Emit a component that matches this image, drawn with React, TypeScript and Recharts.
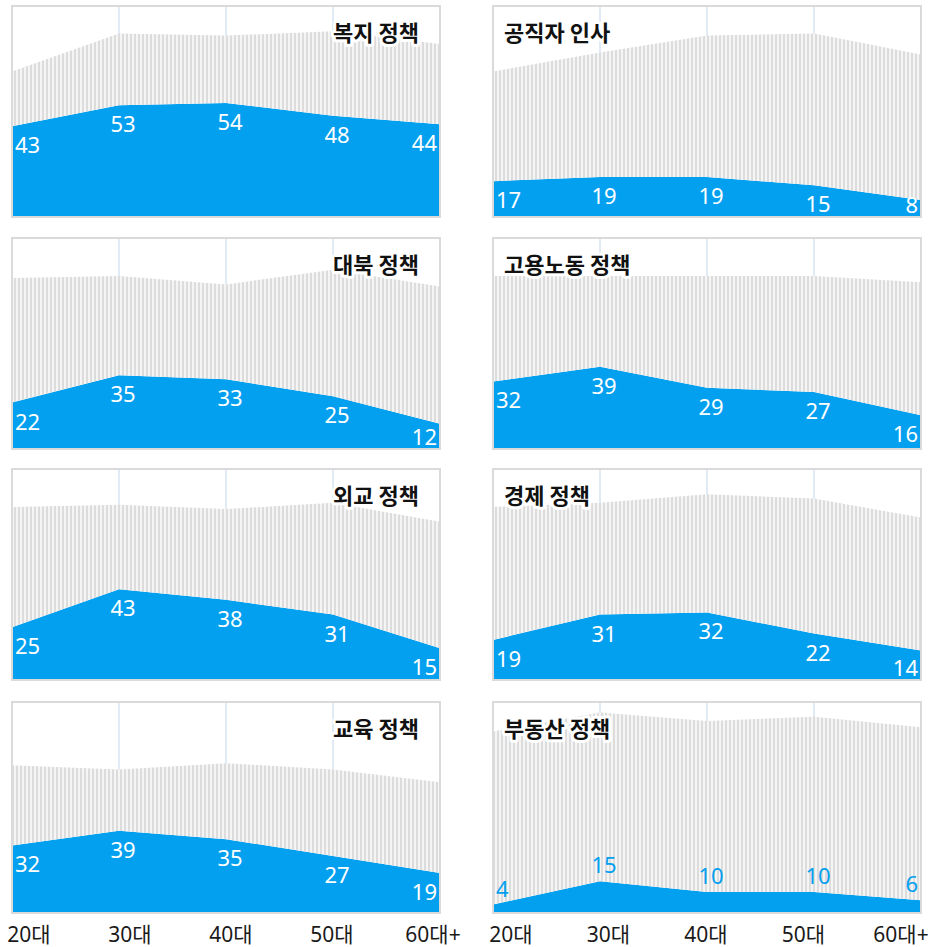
import React from "react";
import {
  AreaChart,
  Area,
  XAxis,
  YAxis,
  CartesianGrid,
  ReferenceArea,
  LabelList,
} from "recharts";

// ---------- data ----------
const ages = ["20대", "30대", "40대", "50대", "60대+"];

const titles = [
  "복지 정책",
  "공직자 인사",
  "대북 정책",
  "고용노동 정책",
  "외교 정책",
  "경제 정책",
  "교육 정책",
  "부동산 정책",
];

// approve (blue) / disapprove (striped gray), in %
const welfareApprove = [43, 53, 54, 48, 44];
const welfareDisapprove = [26, 34, 32, 40, 38];

const personnelApprove = [17, 19, 19, 15, 8];
const personnelDisapprove = [52, 59, 67, 72, 69];

const northApprove = [22, 35, 33, 25, 12];
const northDisapprove = [59, 47, 45, 60, 65];

const laborApprove = [32, 39, 29, 27, 16];
const laborDisapprove = [50, 43, 53, 55, 63];

const diplomacyApprove = [25, 43, 38, 31, 15];
const diplomacyDisapprove = [57, 40, 43, 53, 60];

const economyApprove = [19, 31, 32, 22, 14];
const economyDisapprove = [63, 53, 56, 64, 63];

const educationApprove = [32, 39, 35, 27, 19];
const educationDisapprove = [38, 29, 36, 41, 43];

const housingApprove = [4, 15, 10, 10, 6];
const housingDisapprove = [82, 80, 81, 83, 82];

const approveSeries = [
  welfareApprove,
  personnelApprove,
  northApprove,
  laborApprove,
  diplomacyApprove,
  economyApprove,
  educationApprove,
  housingApprove,
];
const disapproveSeries = [
  welfareDisapprove,
  personnelDisapprove,
  northDisapprove,
  laborDisapprove,
  diplomacyDisapprove,
  economyDisapprove,
  educationDisapprove,
  housingDisapprove,
];

// ---------- style / layout ----------
const BLUE = "#04a0f0";
const FONT = "'Noto Sans', 'Noto Sans CJK KR', sans-serif";
const TITLE_FONT = "'Noto Sans CJK KR', 'Noto Sans', sans-serif";
const PLOT_W = 428;
const PLOT_H = 211;
const COL_LEFT = [12, 493];
const ROW_TOP = [6, 238, 469, 702];
const M = 2;
const AXIS_H = 40;
const EXTRA_R = 30;
const EXTRA_L = 10;
const AXIS_PADDING = [
  { left: 17, right: 7 },
  { left: 18, right: 20 },
];
const LABELS_ABOVE = new Set(["부동산 정책"]);

const AgeTick = (p: any) => (
  <text
    x={p.x}
    y={p.y + 29}
    textAnchor="middle"
    fontSize={21}
    fill="#1a1a1a"
    fontFamily={FONT}
  >
    {p.payload.value}
  </text>
);

function Panel({ index }: { index: number }) {
  const title = titles[index];
  const approve = approveSeries[index];
  const disapprove = disapproveSeries[index];
  const col = index % 2;
  const row = Math.floor(index / 2);
  const showAxis = row === ROW_TOP.length - 1;
  const above = LABELS_ABOVE.has(title);

  const data = ages.map((a, i) => ({
    age: a,
    approve: approve[i],
    disapprove: disapprove[i],
  }));

  const extraR = showAxis ? EXTRA_R : 0;
  const extraL = showAxis ? EXTRA_L : 0;
  const w = PLOT_W + 2 * M + extraR + extraL;
  const h = PLOT_H + 2 * M + (showAxis ? AXIS_H : 0);
  const left = COL_LEFT[col] - M - extraL;
  const top = ROW_TOP[row] - M;
  const plotBottom = M + PLOT_H;
  const n = ages.length;

  const renderLabel = (p: any) => {
    const { x, y, index: i } = p;
    const anchor = i === 0 ? "start" : i === n - 1 ? "end" : "middle";
    const tx = i === 0 ? x + 3 : i === n - 1 ? x - 3 : x + 4;
    const ty = above ? y - 8 : Math.min(y + 27, plotBottom - 4);
    return (
      <text
        key={i}
        x={tx}
        y={ty}
        textAnchor={anchor}
        fontSize={22}
        fill={above ? BLUE : "#ffffff"}
        fontFamily={FONT}
      >
        {approve[i]}
      </text>
    );
  };

  const titleX = col === 0 ? extraL + M + PLOT_W - 21 : extraL + M + 11;
  const titleY = M + 27 + 8;

  return (
    <div style={{ position: "absolute", left, top, width: w, height: h }}>
      <AreaChart
        width={w}
        height={h}
        data={data}
        margin={{ top: M, right: M + extraR, bottom: M, left: M + extraL }}
      >
        <XAxis dataKey="age" xAxisId="main" hide />
        {showAxis && (
          <XAxis
            dataKey="age"
            xAxisId="lab"
            padding={AXIS_PADDING[col]}
            axisLine={false}
            tickLine={false}
            tickSize={0}
            tickMargin={0}
            interval={0}
            height={AXIS_H}
            tick={AgeTick}
          />
        )}
        <YAxis hide domain={[0, 100]} type="number" />
        <CartesianGrid
          xAxisId="main"
          horizontal={false}
          stroke="#d6e4f2"
          strokeWidth={1.5}
        />
        <Area
          xAxisId="main"
          type="linear"
          dataKey="approve"
          stackId="s"
          fill={BLUE}
          fillOpacity={1}
          stroke="none"
          dot={false}
          activeDot={false}
          isAnimationActive={false}
        >
          <LabelList dataKey="approve" content={renderLabel} />
        </Area>
        <Area
          xAxisId="main"
          type="linear"
          dataKey="disapprove"
          stackId="s"
          fill="url(#stripes)"
          fillOpacity={1}
          stroke="none"
          dot={false}
          activeDot={false}
          isAnimationActive={false}
        />
        <ReferenceArea
          xAxisId="main"
          x1={ages[0]}
          x2={ages[n - 1]}
          y1={0}
          y2={100}
          fill="none"
          fillOpacity={0}
          stroke="#dadada"
          strokeWidth={2}
        />
      </AreaChart>
      <svg
        width={w}
        height={PLOT_H + 2 * M}
        style={{ position: "absolute", left: 0, top: 0, pointerEvents: "none" }}
      >
        <text
          x={titleX}
          y={titleY}
          textAnchor={col === 0 ? "end" : "start"}
          fontSize={22}
          fontWeight="bold"
          fontFamily={TITLE_FONT}
          fill="#111"
          stroke="#ffffff"
          strokeWidth={6}
          strokeLinejoin="round"
          style={{ paintOrder: "stroke" }}
        >
          {title}
        </text>
      </svg>
    </div>
  );
}

export default function App() {
  return (
    <div
      style={{
        position: "absolute",
        left: 0,
        top: 0,
        width: 928,
        height: 947,
        background: "#fff",
      }}
    >
      <svg width={0} height={0} style={{ position: "absolute" }}>
        <defs>
          <pattern
            id="stripes"
            patternUnits="userSpaceOnUse"
            width={4}
            height={10}
          >
            <rect x={0} y={0} width={4} height={10} fill="#f5f5f5" />
            <rect x={0} y={0} width={2} height={10} fill="#dcdcdc" />
          </pattern>
        </defs>
      </svg>
      {titles.map((_, i) => (
        <Panel key={i} index={i} />
      ))}
    </div>
  );
}
